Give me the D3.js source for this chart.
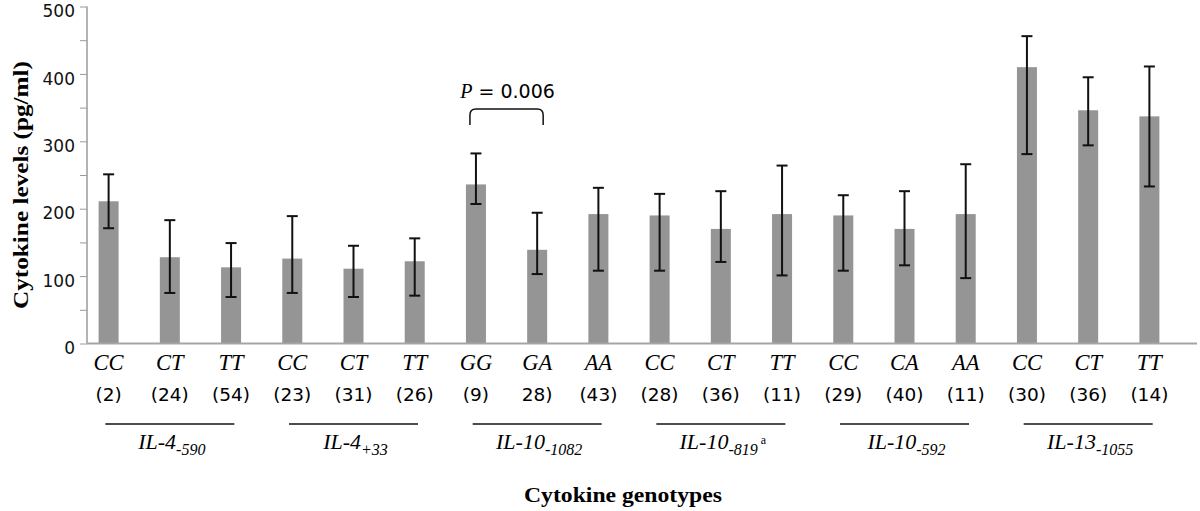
<!DOCTYPE html>
<html>
<head>
<meta charset="utf-8">
<script src="https://cdn.jsdelivr.net/npm/d3@7"></script>
<style>
  body { margin: 0; background: #fff; }
  svg { display: block; }
  .tick text { font-family: "DejaVu Sans", sans-serif; font-size: 17px; fill: #111; }
  .tick line { stroke: #9a9a9a; }
</style>
</head>
<body>
<div id="chart"></div>
<script>
// genotype per bar, sample size label, mean and error bar ends (pg/ml)
const genotypes = ['CC', 'CT', 'TT', 'CC', 'CT', 'TT', 'GG', 'GA', 'AA',
                   'CC', 'CT', 'TT', 'CC', 'CA', 'AA', 'CC', 'CT', 'TT'];
const counts = ['(2)', '(24)', '(54)', '(23)', '(31)', '(26)', '(9)', '28)', '(43)',
                '(28)', '(36)', '(11)', '(29)', '(40)', '(11)', '(30)', '(36)', '(14)'];
const means = [211, 128, 113, 126, 111, 122, 236, 139, 192,
               190, 170, 192, 190, 170, 192, 410, 346, 337];
const errLow = [171, 75, 69, 75, 69, 71, 207, 103, 108,
                108, 121, 101, 108, 116, 97, 281, 294, 233];
const errHigh = [251, 183, 149, 189, 145, 156, 282, 194, 231,
                 222, 226, 264, 220, 226, 266, 456, 395, 411];
const groupNames = ['IL-4', 'IL-4', 'IL-10', 'IL-10', 'IL-10', 'IL-13'];
const groupSubs = ['-590', '+33', '-1082', '-819', '-592', '-1055'];
const groupSups = ['', '', '', 'a', '', ''];
const yTicks = [0, 50, 100, 150, 200, 250, 300, 350, 400, 450, 500];

const width = 1200, height = 511;
const svg = d3.select('#chart').append('svg')
  .attr('width', width)
  .attr('height', height);

const x = d3.scaleBand()
  .domain(d3.range(genotypes.length))
  .range([78, 1180]);
const y = d3.scaleLinear()
  .domain([0, 500])
  .range([343.5, 6.5]);

const barW = 20;
const cx = i => x(i) + x.bandwidth() / 2;

// y axis
svg.append('g')
  .attr('transform', 'translate(87,0)')
  .call(d3.axisLeft(y).tickValues(yTicks)
    .tickFormat(d => d % 100 === 0 ? d : '')
    .tickSize(7).tickPadding(5))
  .call(g => g.select('.domain').remove())
  .call(g => g.selectAll('.tick text').attr('dy', '0.6em'));

svg.append('line')
  .attr('x1', 87).attr('x2', 87)
  .attr('y1', y(500)).attr('y2', y(0))
  .attr('stroke', '#9a9a9a').attr('stroke-width', 1.5);

// bars
svg.append('g').selectAll('rect')
  .data(means)
  .enter().append('rect')
  .attr('x', (d, i) => cx(i) - barW / 2)
  .attr('y', d => y(d))
  .attr('width', barW)
  .attr('height', d => y(0) - y(d))
  .attr('fill', '#959595');

// x axis line
svg.append('line')
  .attr('x1', 87).attr('x2', 1197)
  .attr('y1', y(0)).attr('y2', y(0))
  .attr('stroke', '#a5a5a5').attr('stroke-width', 2);

// error bars
const err = svg.append('g').attr('stroke', '#111').attr('stroke-width', 2);
means.forEach((m, i) => {
  err.append('line')
    .attr('x1', cx(i)).attr('x2', cx(i))
    .attr('y1', y(errLow[i])).attr('y2', y(errHigh[i]));
  [errLow[i], errHigh[i]].forEach(v => {
    err.append('line')
      .attr('x1', cx(i) - 5.5).attr('x2', cx(i) + 5.5)
      .attr('y1', y(v)).attr('y2', y(v));
  });
});

// genotype + count labels
svg.append('g').selectAll('text')
  .data(genotypes)
  .enter().append('text')
  .attr('x', (d, i) => cx(i))
  .attr('y', 370)
  .attr('text-anchor', 'middle')
  .style('font-family', '"Liberation Serif", serif')
  .style('font-style', 'italic')
  .style('font-size', '22.5px')
  .text(d => d);

svg.append('g').selectAll('text')
  .data(counts)
  .enter().append('text')
  .attr('x', (d, i) => cx(i))
  .attr('y', 401)
  .attr('text-anchor', 'middle')
  .style('font-family', '"DejaVu Sans", sans-serif')
  .style('font-size', '18.5px')
  .text(d => d);

// gene group underlines and names, centred on the middle genotype
const grp = svg.append('g');
groupNames.forEach((name, g) => {
  const gx = cx(g * 3 + 1);
  grp.append('line')
    .attr('x1', gx - 64.5).attr('x2', gx + 64.5)
    .attr('y1', 424).attr('y2', 424)
    .attr('stroke', '#111').attr('stroke-width', 1.5);
  const t = grp.append('text')
    .attr('x', gx + 2).attr('y', 449)
    .attr('text-anchor', 'middle')
    .style('font-family', '"Liberation Serif", serif')
    .style('font-style', 'italic')
    .style('font-size', '22px');
  t.append('tspan').text(name);
  t.append('tspan').attr('dy', 6).style('font-size', '16px').text(groupSubs[g]);
  if (groupSups[g]) {
    t.append('tspan').attr('dy', -11).attr('dx', 3)
      .style('font-size', '12px').style('font-style', 'normal').text(groupSups[g]);
  }
});

// significance bracket between GG and GA
const bx1 = cx(6) - 6, bx2 = cx(7) + 6;
const by = y(348), byEnd = y(324), r = 6;
svg.append('path')
  .attr('d', `M${bx1},${byEnd} L${bx1},${by + r} Q${bx1},${by} ${bx1 + r},${by}
    L${bx2 - r},${by} Q${bx2},${by} ${bx2},${by + r} L${bx2},${byEnd}`)
  .attr('fill', 'none')
  .attr('stroke', '#111')
  .attr('stroke-width', 1.5);

const pt = svg.append('text')
  .attr('x', (bx1 + bx2) / 2 + 1)
  .attr('y', 98)
  .attr('text-anchor', 'middle')
  .style('font-size', '20px');
pt.append('tspan')
  .style('font-family', '"Liberation Serif", serif')
  .style('font-style', 'italic')
  .text('P');
pt.append('tspan')
  .style('font-family', '"DejaVu Sans", sans-serif')
  .style('font-size', '19px')
  .text(' = 0.006');

// axis titles
svg.append('text')
  .attr('transform', 'translate(28,185) rotate(-90)')
  .attr('text-anchor', 'middle')
  .attr('textLength', 248)
  .attr('lengthAdjust', 'spacingAndGlyphs')
  .style('font-family', '"Liberation Serif", serif')
  .style('font-weight', 'bold')
  .style('font-size', '22px')
  .text('Cytokine levels (pg/ml)');

svg.append('text')
  .attr('x', 623)
  .attr('y', 502)
  .attr('text-anchor', 'middle')
  .attr('textLength', 198)
  .attr('lengthAdjust', 'spacingAndGlyphs')
  .style('font-family', '"Liberation Serif", serif')
  .style('font-weight', 'bold')
  .style('font-size', '22px')
  .text('Cytokine genotypes');
</script>
</body>
</html>
